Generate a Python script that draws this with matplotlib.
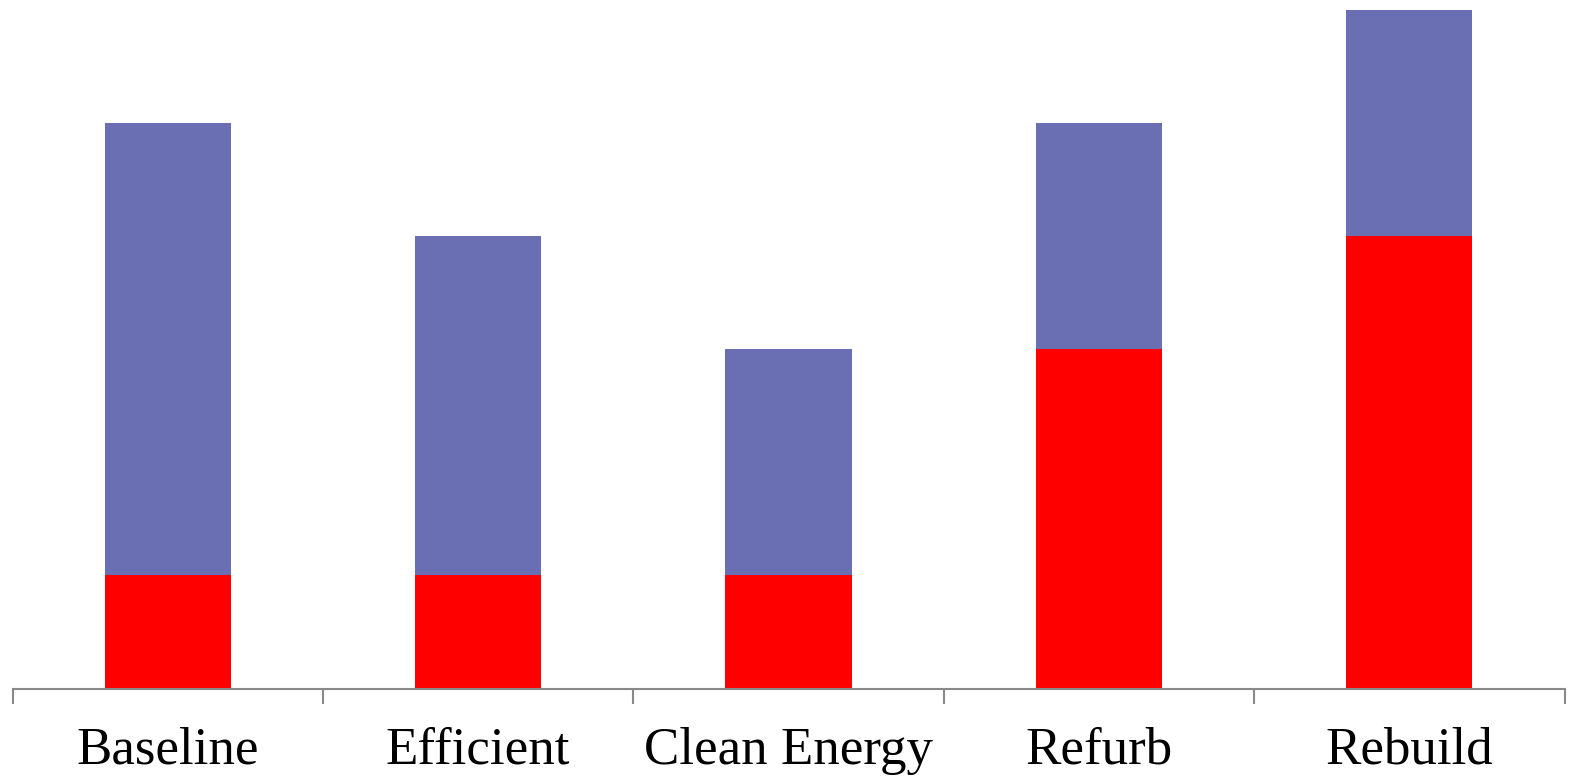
import numpy as np
import matplotlib.pyplot as plt

scenarios = ["Baseline", "Efficient", "Clean Energy", "Refurb", "Rebuild"]
embodied = [1, 1, 1, 3, 4]
operational = [4, 3, 2, 2, 2]

red = "#FF0000"
blue = "#6A6FB4"
grey = "#898989"

fig = plt.figure(figsize=(15.69, 7.81), dpi=100)
ax = fig.add_axes([12.5 / 1569, 1 - 688.5 / 781, 1552 / 1569, 678.5 / 781])

x = np.arange(len(scenarios))
w = 0.406
ax.bar(x, embodied, width=w, color=red, linewidth=0)
ax.bar(x, operational, width=w, bottom=embodied, color=blue, linewidth=0)

ax.set_xlim(-0.5, len(scenarios) - 0.5)
ax.set_ylim(0, 6)

# category boundaries get the tick marks, centres get the labels
ax.set_xticks(np.arange(-0.5, len(scenarios)), [])
ax.set_xticks(x, scenarios, minor=True)
ax.tick_params(axis="x", which="major", length=10.5, width=1.5, color=grey, direction="out")
ax.tick_params(axis="x", which="minor", length=0, pad=27.5, labelsize=38.2)
for lbl in ax.get_xticklabels(minor=True):
    lbl.set_fontfamily("Liberation Serif")

ax.set_yticks([])
for side in ["top", "right", "left"]:
    ax.spines[side].set_visible(False)
ax.spines["bottom"].set_color(grey)
ax.spines["bottom"].set_linewidth(1.5)

fig.savefig("out.png", dpi=100)
